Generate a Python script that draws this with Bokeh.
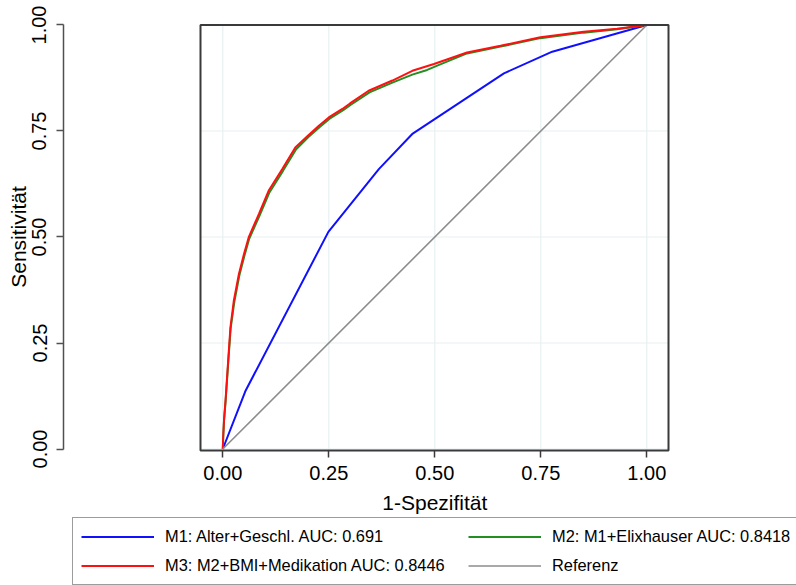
import math
from bokeh.plotting import figure
from bokeh.models import (Range1d, FixedTicker, NumeralTickFormatter, BoxAnnotation,
                          Label, Legend, LegendItem)
from bokeh.embed import file_html
from bokeh.resources import INLINE

# ---------------- data ----------------
ticks = [0.0, 0.25, 0.5, 0.75, 1.0]

m1_x = [0.0, 0.054, 0.249, 0.368, 0.448, 0.663, 0.777, 1.0]
m1_y = [0.0, 0.138, 0.512, 0.660, 0.744, 0.886, 0.937, 1.0]

m2_x = [0.0, 0.001, 0.003, 0.0066, 0.0130, 0.0185, 0.027, 0.039, 0.051, 0.062, 0.087,
        0.110, 0.142, 0.173, 0.202, 0.228, 0.252, 0.284, 0.302, 0.346, 0.400, 0.447,
        0.482, 0.510, 0.576, 0.655, 0.749, 0.851, 0.930, 1.0]
m2_y = [0.0, 0.029, 0.068, 0.112, 0.206, 0.284, 0.346, 0.409, 0.456, 0.495, 0.551,
        0.605, 0.656, 0.707, 0.736, 0.759, 0.779, 0.799, 0.812, 0.841, 0.864, 0.883,
        0.894, 0.906, 0.933, 0.949, 0.969, 0.982, 0.990, 1.0]

m3_x = [0.0, 0.001, 0.003, 0.0064, 0.0127, 0.018, 0.026, 0.038, 0.050, 0.061, 0.085,
        0.108, 0.140, 0.171, 0.200, 0.226, 0.250, 0.282, 0.300, 0.344, 0.400, 0.447,
        0.498, 0.576, 0.655, 0.749, 0.851, 0.930, 1.0]
m3_y = [0.0, 0.030, 0.070, 0.114, 0.209, 0.287, 0.350, 0.413, 0.460, 0.499, 0.554,
        0.609, 0.660, 0.711, 0.738, 0.762, 0.782, 0.802, 0.815, 0.845, 0.869, 0.892,
        0.908, 0.935, 0.951, 0.971, 0.984, 0.991, 1.0]

ref_x = [0.0, 1.0]
ref_y = [0.0, 1.0]

labels = ["M1: Alter+Geschl. AUC: 0.691",
          "M2: M1+Elixhauser AUC: 0.8418",
          "M3: M2+BMI+Medikation AUC: 0.8446",
          "Referenz"]
x_title = "1-Spezifität"
y_title = "Sensitivität"

# ---------------- layout constants ----------------
FONT = "Liberation Sans"
BOX_L, BOX_R, BOX_B, BOX_T = -0.0526, 1.0512, -0.0035, 1.0
YAXIS_AT = -0.3757          # data x where the detached y axis sits
GRID = "#e8f0f2"
FRAME = "#3a3a3a"

p = figure(width=796, height=585, output_backend="svg", toolbar_location=None,
           x_range=Range1d(-0.52429, 1.35307), y_range=Range1d(-0.32193, 1.05778),
           min_border_left=0, min_border_right=0, min_border_top=0, min_border_bottom=0)
p.outline_line_color = None
p.grid.visible = False
p.background_fill_color = "white"
p.border_fill_color = "white"

# gridlines restricted to the plot box
p.segment(x0=ticks, y0=[BOX_B] * len(ticks), x1=ticks, y1=[BOX_T] * len(ticks),
          line_color=GRID, line_width=1.2)
p.segment(x0=[BOX_L] * len(ticks), y0=ticks, x1=[BOX_R] * len(ticks), y1=ticks,
          line_color=GRID, line_width=1.2)

r1 = p.line(m1_x, m1_y, line_color="#1010ff", line_width=2)
r2 = p.line(m2_x, m2_y, line_color="#238f23", line_width=2)
r3 = p.line(m3_x, m3_y, line_color="#ff1010", line_width=2)
r4 = p.line(ref_x, ref_y, line_color="#8c8c8c", line_width=1.6)

p.add_layout(BoxAnnotation(left=BOX_L, right=BOX_R, bottom=BOX_B, top=BOX_T,
                           fill_color=None, fill_alpha=0, line_color=FRAME,
                           line_alpha=1.0, line_width=2))

# x axis (drawn at the bottom edge of the plot box)
xa = p.xaxis[0]
xa.fixed_location = BOX_B
xa.bounds = (0, 1)
xa.ticker = FixedTicker(ticks=ticks, minor_ticks=[])
xa.formatter = NumeralTickFormatter(format="0.00")
xa.axis_line_color = None
xa.major_tick_in = 0
xa.major_tick_out = 7
xa.major_tick_line_color = FRAME
xa.major_tick_line_width = 1.5
xa.minor_tick_line_color = None
xa.major_label_text_font = FONT
xa.major_label_text_font_size = "20px"
xa.major_label_text_color = "black"
xa.major_label_standoff = 9

# y axis (detached, to the left of the plot box)
ya = p.yaxis[0]
ya.fixed_location = YAXIS_AT
ya.bounds = (0, 1)
ya.ticker = FixedTicker(ticks=ticks, minor_ticks=[])
ya.formatter = NumeralTickFormatter(format="0.00")
ya.axis_line_color = "#505050"
ya.axis_line_width = 1.5
ya.major_tick_in = 0
ya.major_tick_out = 7
ya.major_tick_line_color = "#505050"
ya.major_tick_line_width = 1.5
ya.minor_tick_line_color = None
ya.major_label_orientation = "vertical"
ya.major_label_text_font = FONT
ya.major_label_text_font_size = "20px"
ya.major_label_text_color = "black"
ya.major_label_standoff = 10

p.add_layout(Label(x=0.5, y=-0.1262, text=x_title, text_align="center",
                   text_baseline="alphabetic", text_font=FONT, text_font_size="21px",
                   text_color="black"))
p.add_layout(Label(x=-0.48184, y=0.5, text=y_title, angle=math.pi / 2,
                   text_align="center", text_baseline="alphabetic", text_font=FONT,
                   text_font_size="21px", text_color="black"))

legend = Legend(items=[LegendItem(label=labels[0], renderers=[r1]),
                       LegendItem(label=labels[1], renderers=[r2]),
                       LegendItem(label=labels[2], renderers=[r3]),
                       LegendItem(label=labels[3], renderers=[r4])],
                location=(72, 0), orientation="horizontal", ncols=2,
                glyph_width=73, glyph_height=21, label_height=21, label_width=295,
                label_standoff=11, spacing=8, padding=8,
                label_text_font=FONT, label_text_font_size="16.4px",
                label_text_color="black",
                border_line_color=FRAME, border_line_width=1.5,
                background_fill_color="white", background_fill_alpha=1.0)
p.add_layout(legend, "center")

open("out.html", "w").write(file_html(p, INLINE))
